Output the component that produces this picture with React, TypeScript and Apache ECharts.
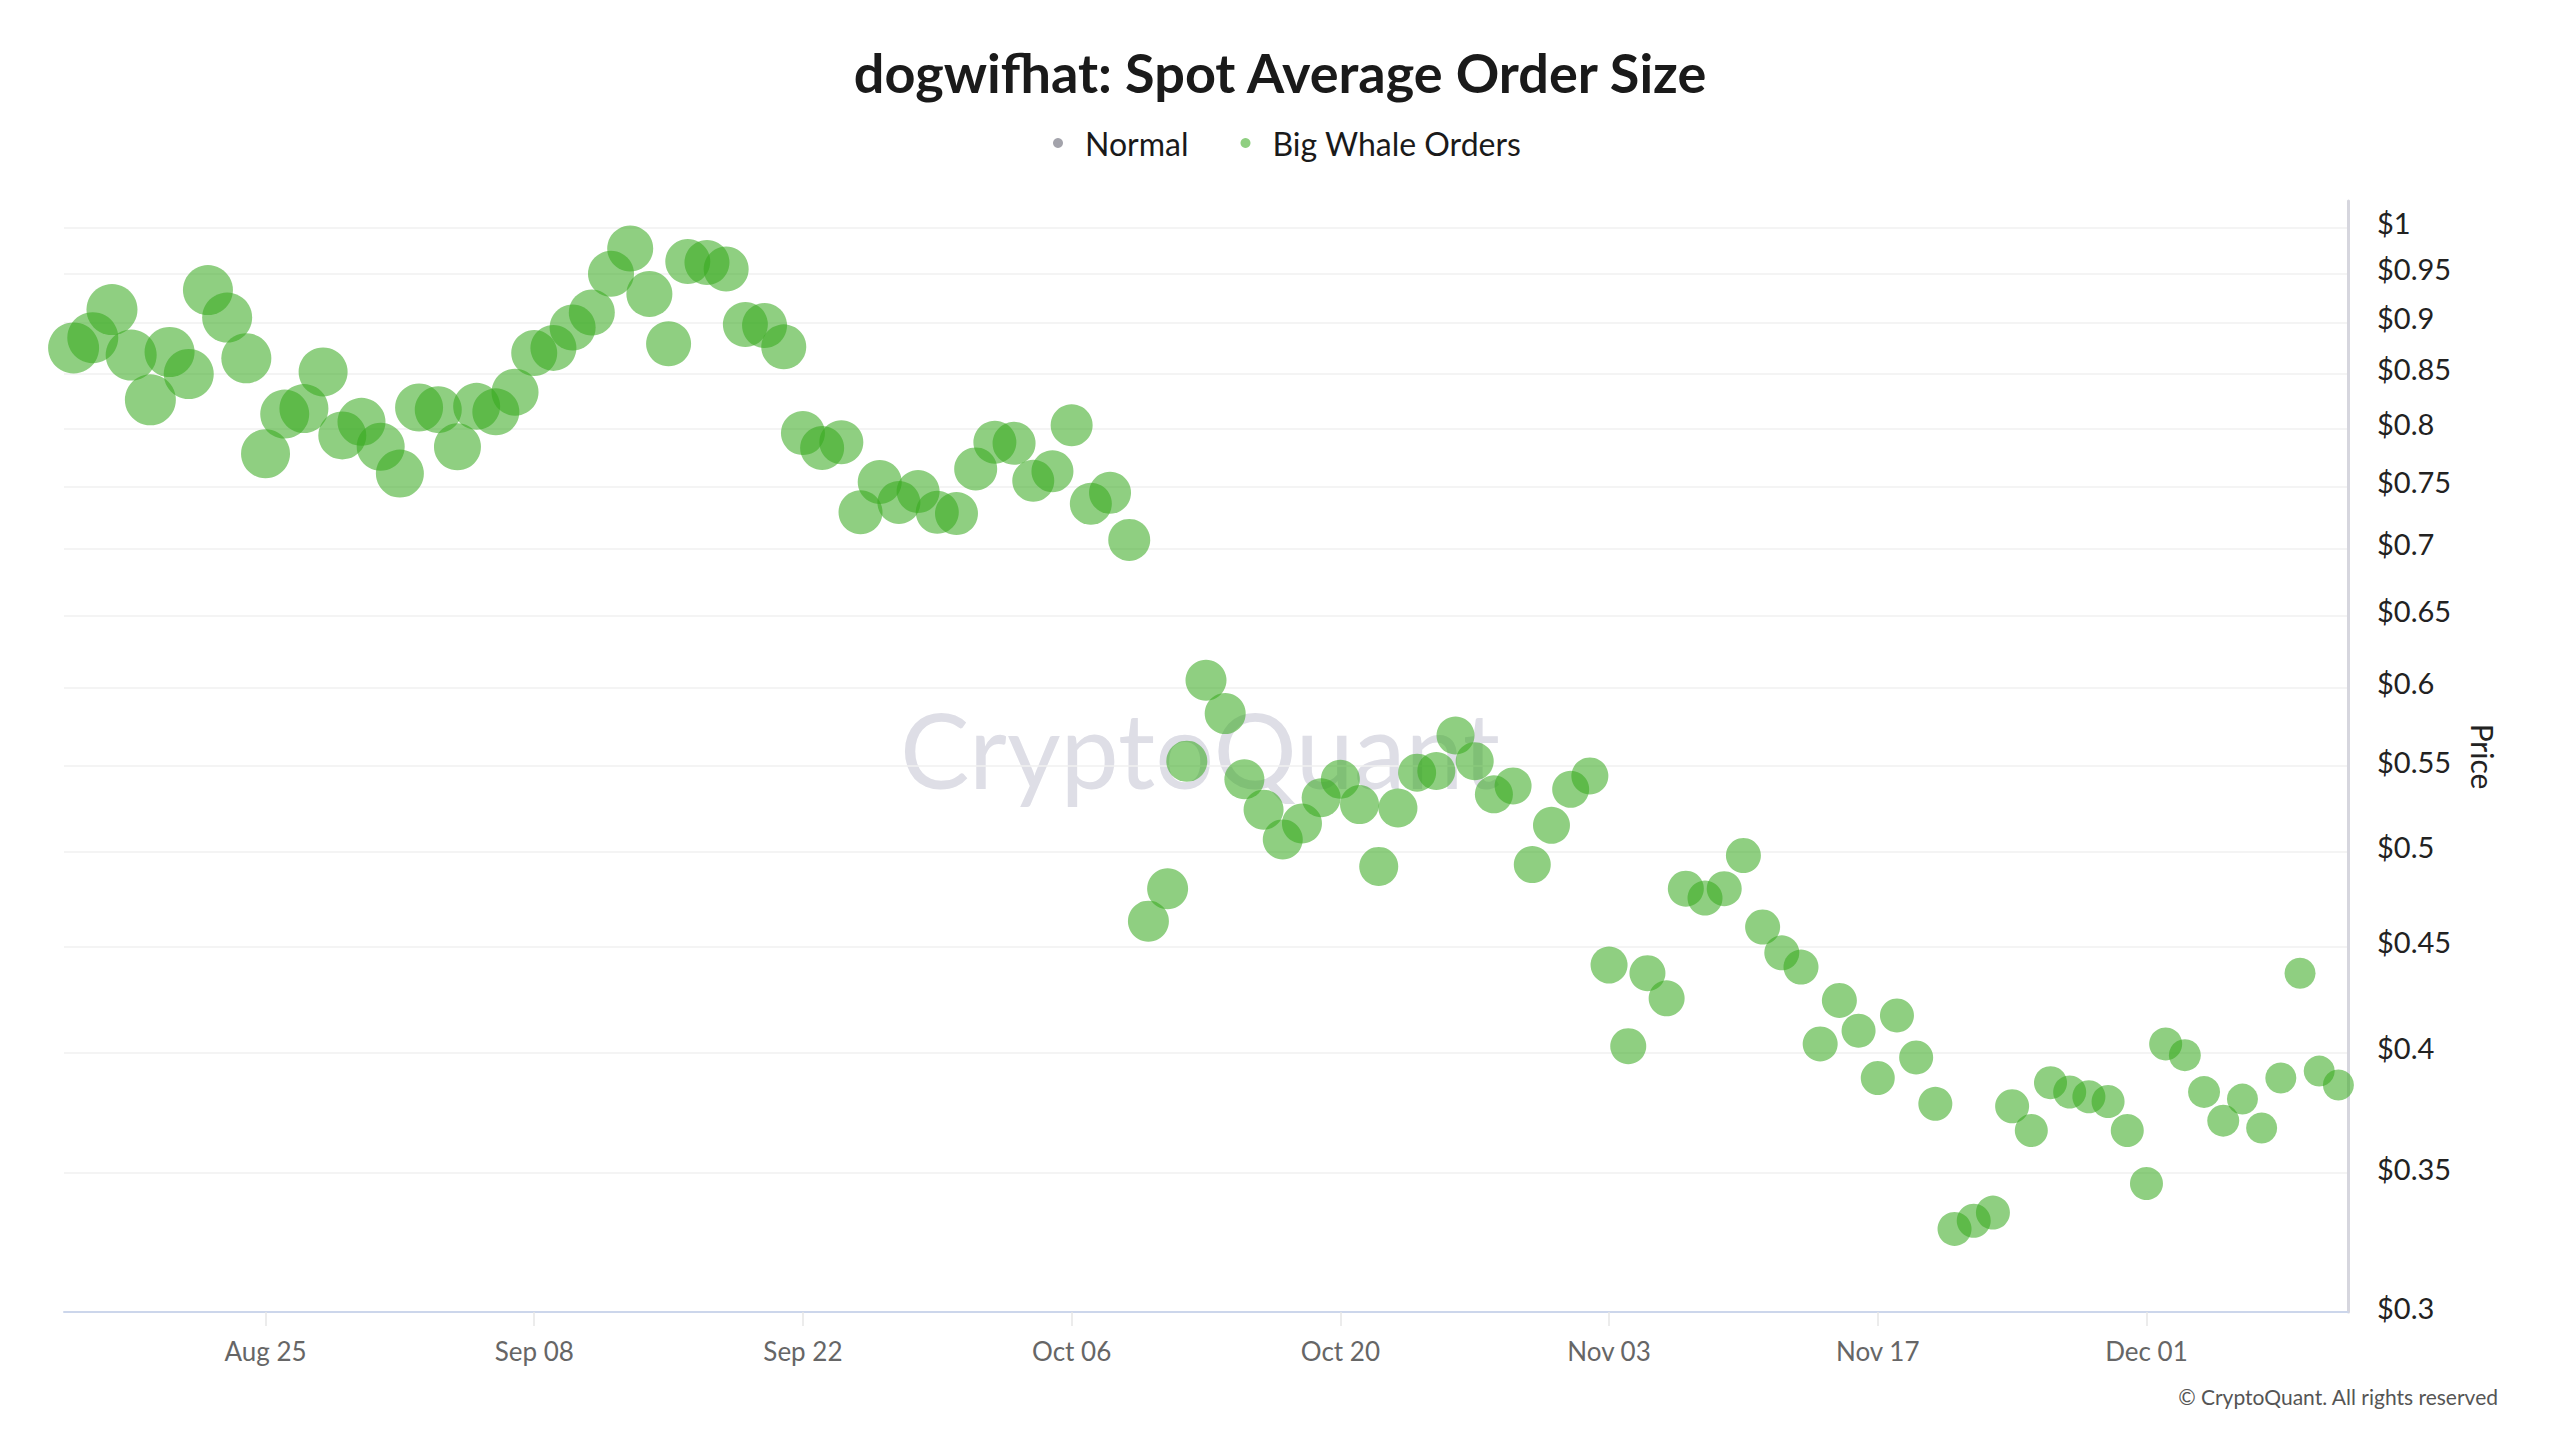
import React, { useEffect, useRef } from "react";
import * as echarts from "echarts";

// ---- data ----
const START_DATE = "2025-08-15"; // first daily point
const PRICE_AUG = [0.875, 0.885, 0.913, 0.868, 0.826, 0.871, 0.85, 0.933, 0.905, 0.865, 0.778, 0.813, 0.818, 0.852, 0.794, 0.806, 0.784];
const PRICE_SEP = [0.761, 0.819, 0.817, 0.784, 0.82, 0.815, 0.833, 0.87, 0.875, 0.895, 0.91, 0.95, 0.977, 0.929, 0.879, 0.963, 0.962, 0.955, 0.898, 0.897, 0.876, 0.796, 0.783, 0.788, 0.729, 0.754, 0.737, 0.746, 0.729, 0.728];
const PRICE_OCT = [0.765, 0.788, 0.787, 0.755, 0.763, 0.803, 0.736, 0.745, 0.707, 0.463, 0.48, 0.553, 0.605, 0.583, 0.542, 0.524, 0.507, 0.516, 0.531, 0.542, 0.527, 0.492, 0.525, 0.546, 0.547, 0.569, 0.553, 0.533, 0.538, 0.493, 0.515];
const PRICE_NOV = [0.536, 0.544, 0.441, 0.403, 0.437, 0.425, 0.48, 0.475, 0.48, 0.498, 0.46, 0.447, 0.44, 0.404, 0.424, 0.41, 0.389, 0.417, 0.398, 0.378, 0.329, 0.332, 0.335, 0.377, 0.367, 0.387, 0.383, 0.381, 0.379, 0.367];
const PRICE_DEC = [0.346, 0.404, 0.399, 0.383, 0.371, 0.38, 0.368, 0.389, 0.437, 0.392, 0.386];

// bubble diameters (px)
const SIZE_AUG = [51, 51, 51, 51, 51, 50, 50, 50, 50, 50, 49, 49, 49, 49, 48, 48, 48];
const SIZE_SEP = [48, 48, 47, 47, 47, 47, 47, 46, 46, 46, 46, 46, 46, 46, 45, 45, 45, 45, 45, 45, 45, 44, 44, 44, 44, 44, 43, 43, 43, 43];
const SIZE_OCT = [43, 43, 43, 42, 42, 42, 42, 42, 42, 41, 41, 41, 41, 41, 40, 40, 40, 40, 39, 39, 39, 39, 39, 38, 38, 38, 38, 38, 37, 37, 37];
const SIZE_NOV = [37, 37, 37, 36, 36, 36, 36, 35, 35, 35, 35, 35, 35, 35, 35, 34, 34, 34, 34, 34, 34, 34, 34, 34, 33, 33, 33, 33, 33, 33];
const SIZE_DEC = [33, 33, 32, 32, 32, 31, 31, 31, 31, 31, 31];

const PRICES = [...PRICE_AUG, ...PRICE_SEP, ...PRICE_OCT, ...PRICE_NOV, ...PRICE_DEC];
const SIZES = [...SIZE_AUG, ...SIZE_SEP, ...SIZE_OCT, ...SIZE_NOV, ...SIZE_DEC];

const X_TICK_LABELS = ["Aug 25", "Sep 08", "Sep 22", "Oct 06", "Oct 20", "Nov 03", "Nov 17", "Dec 01"];
const Y_TICKS = [0.3, 0.35, 0.4, 0.45, 0.5, 0.55, 0.6, 0.65, 0.7, 0.75, 0.8, 0.85, 0.9, 0.95, 1];
const Y_MIN = 0.3;
const Y_MAX = 1.03;

const MONTHS = ["Jan", "Feb", "Mar", "Apr", "May", "Jun", "Jul", "Aug", "Sep", "Oct", "Nov", "Dec"];

function buildCategories(): string[] {
  const start = new Date(START_DATE + "T00:00:00Z").getTime();
  const out: string[] = [];
  for (let i = 0; i < PRICES.length; i++) {
    const d = new Date(start + i * 86400000);
    const dd = String(d.getUTCDate()).padStart(2, "0");
    out.push(MONTHS[d.getUTCMonth()] + " " + dd);
  }
  return out;
}

const FONT = "Lato";

export default function App() {
  const ref = useRef<HTMLDivElement>(null);

  useEffect(() => {
    if (!ref.current) return;
    const chart = echarts.init(ref.current, undefined, { renderer: "svg" });
    const categories = buildCategories();
    const isTickIdx = (idx: number) => X_TICK_LABELS.includes(categories[idx]);

    chart.setOption({
      animation: false,
      backgroundColor: "#ffffff",
      title: {
        text: "dogwifhat: Spot Average Order Size",
        left: "center",
        top: 42,
        padding: 0,
        textStyle: { fontFamily: FONT, fontSize: 54, fontWeight: "bold", color: "#1a1a1a", lineHeight: 60 },
      },
      legend: {
        top: 122,
        left: 1048,
        itemWidth: 10,
        itemHeight: 10,
        itemGap: 52,
        icon: "circle",
        textStyle: { fontFamily: FONT, fontSize: 32, color: "#1a1a1a", padding: [0, 0, 0, 17] },
        data: ["Normal", "Big Whale Orders"],
      },
      grid: { left: 64, right: 212, top: 201, bottom: 128, containLabel: false },
      xAxis: {
        type: "category",
        data: categories,
        boundaryGap: true,
        axisLine: { lineStyle: { color: "#ccd6eb", width: 2 } },
        axisTick: {
          show: true,
          alignWithLabel: true,
          length: 14,
          interval: (idx: number) => isTickIdx(idx),
          lineStyle: { color: "#e6e6e6", width: 1.5 },
        },
        axisLabel: {
          interval: (idx: number) => isTickIdx(idx),
          margin: 26,
          fontFamily: FONT,
          fontSize: 26,
          color: "#666666",
        },
        splitLine: { show: false },
      },
      yAxis: {
        type: "log",
        logBase: 10,
        position: "right",
        min: Y_MIN,
        max: Y_MAX,
        name: "Price",
        nameLocation: "middle",
        nameRotate: -90,
        nameGap: 120,
        nameTextStyle: { fontFamily: FONT, fontSize: 30, color: "#222222" },
        axisLine: { show: true, lineStyle: { color: "#d6d6de", width: 3 } },
        axisTick: { show: false, customValues: Y_TICKS },
        axisLabel: {
          customValues: Y_TICKS,
          margin: 29,
          fontFamily: FONT,
          fontSize: 29,
          color: "#222222",
          verticalAlign: "bottom",
          lineHeight: 10,
          formatter: (v: number) => "$" + parseFloat(Number(v).toFixed(2)),
        },
        splitLine: { show: true, lineStyle: { color: "#f0f0f0", width: 1.5 } },
      },
      graphic: [
        {
          type: "text",
          z: 0,
          silent: true,
          x: 1200,
          y: 748,
          style: {
            text: "CryptoQuant",
            fontFamily: FONT,
            fontSize: 104,
            fill: "#dedee6",
            align: "center",
            verticalAlign: "middle",
          },
        },
        {
          type: "text",
          silent: true,
          x: 2498,
          y: 1396,
          style: {
            text: "© CryptoQuant. All rights reserved",
            fontFamily: FONT,
            fontSize: 21,
            fill: "#555555",
            align: "right",
            verticalAlign: "middle",
          },
        },
      ],
      series: [
        {
          name: "Normal",
          type: "scatter",
          data: [],
          itemStyle: { color: "#8c8c96" },
        },
        {
          name: "Big Whale Orders",
          type: "scatter",
          z: 3,
          data: PRICES,
          symbol: "circle",
          symbolSize: (_v: any, p: any) => SIZES[p.dataIndex],
          itemStyle: { color: "rgba(55,169,31,0.7)" },
          emphasis: { disabled: true },
        },
      ],
    });

    return () => chart.dispose();
  }, []);

  return (
    <div
      ref={ref}
      style={{ position: "fixed", left: 0, top: 0, width: 2560, height: 1440, background: "#fff" }}
    />
  );
}
